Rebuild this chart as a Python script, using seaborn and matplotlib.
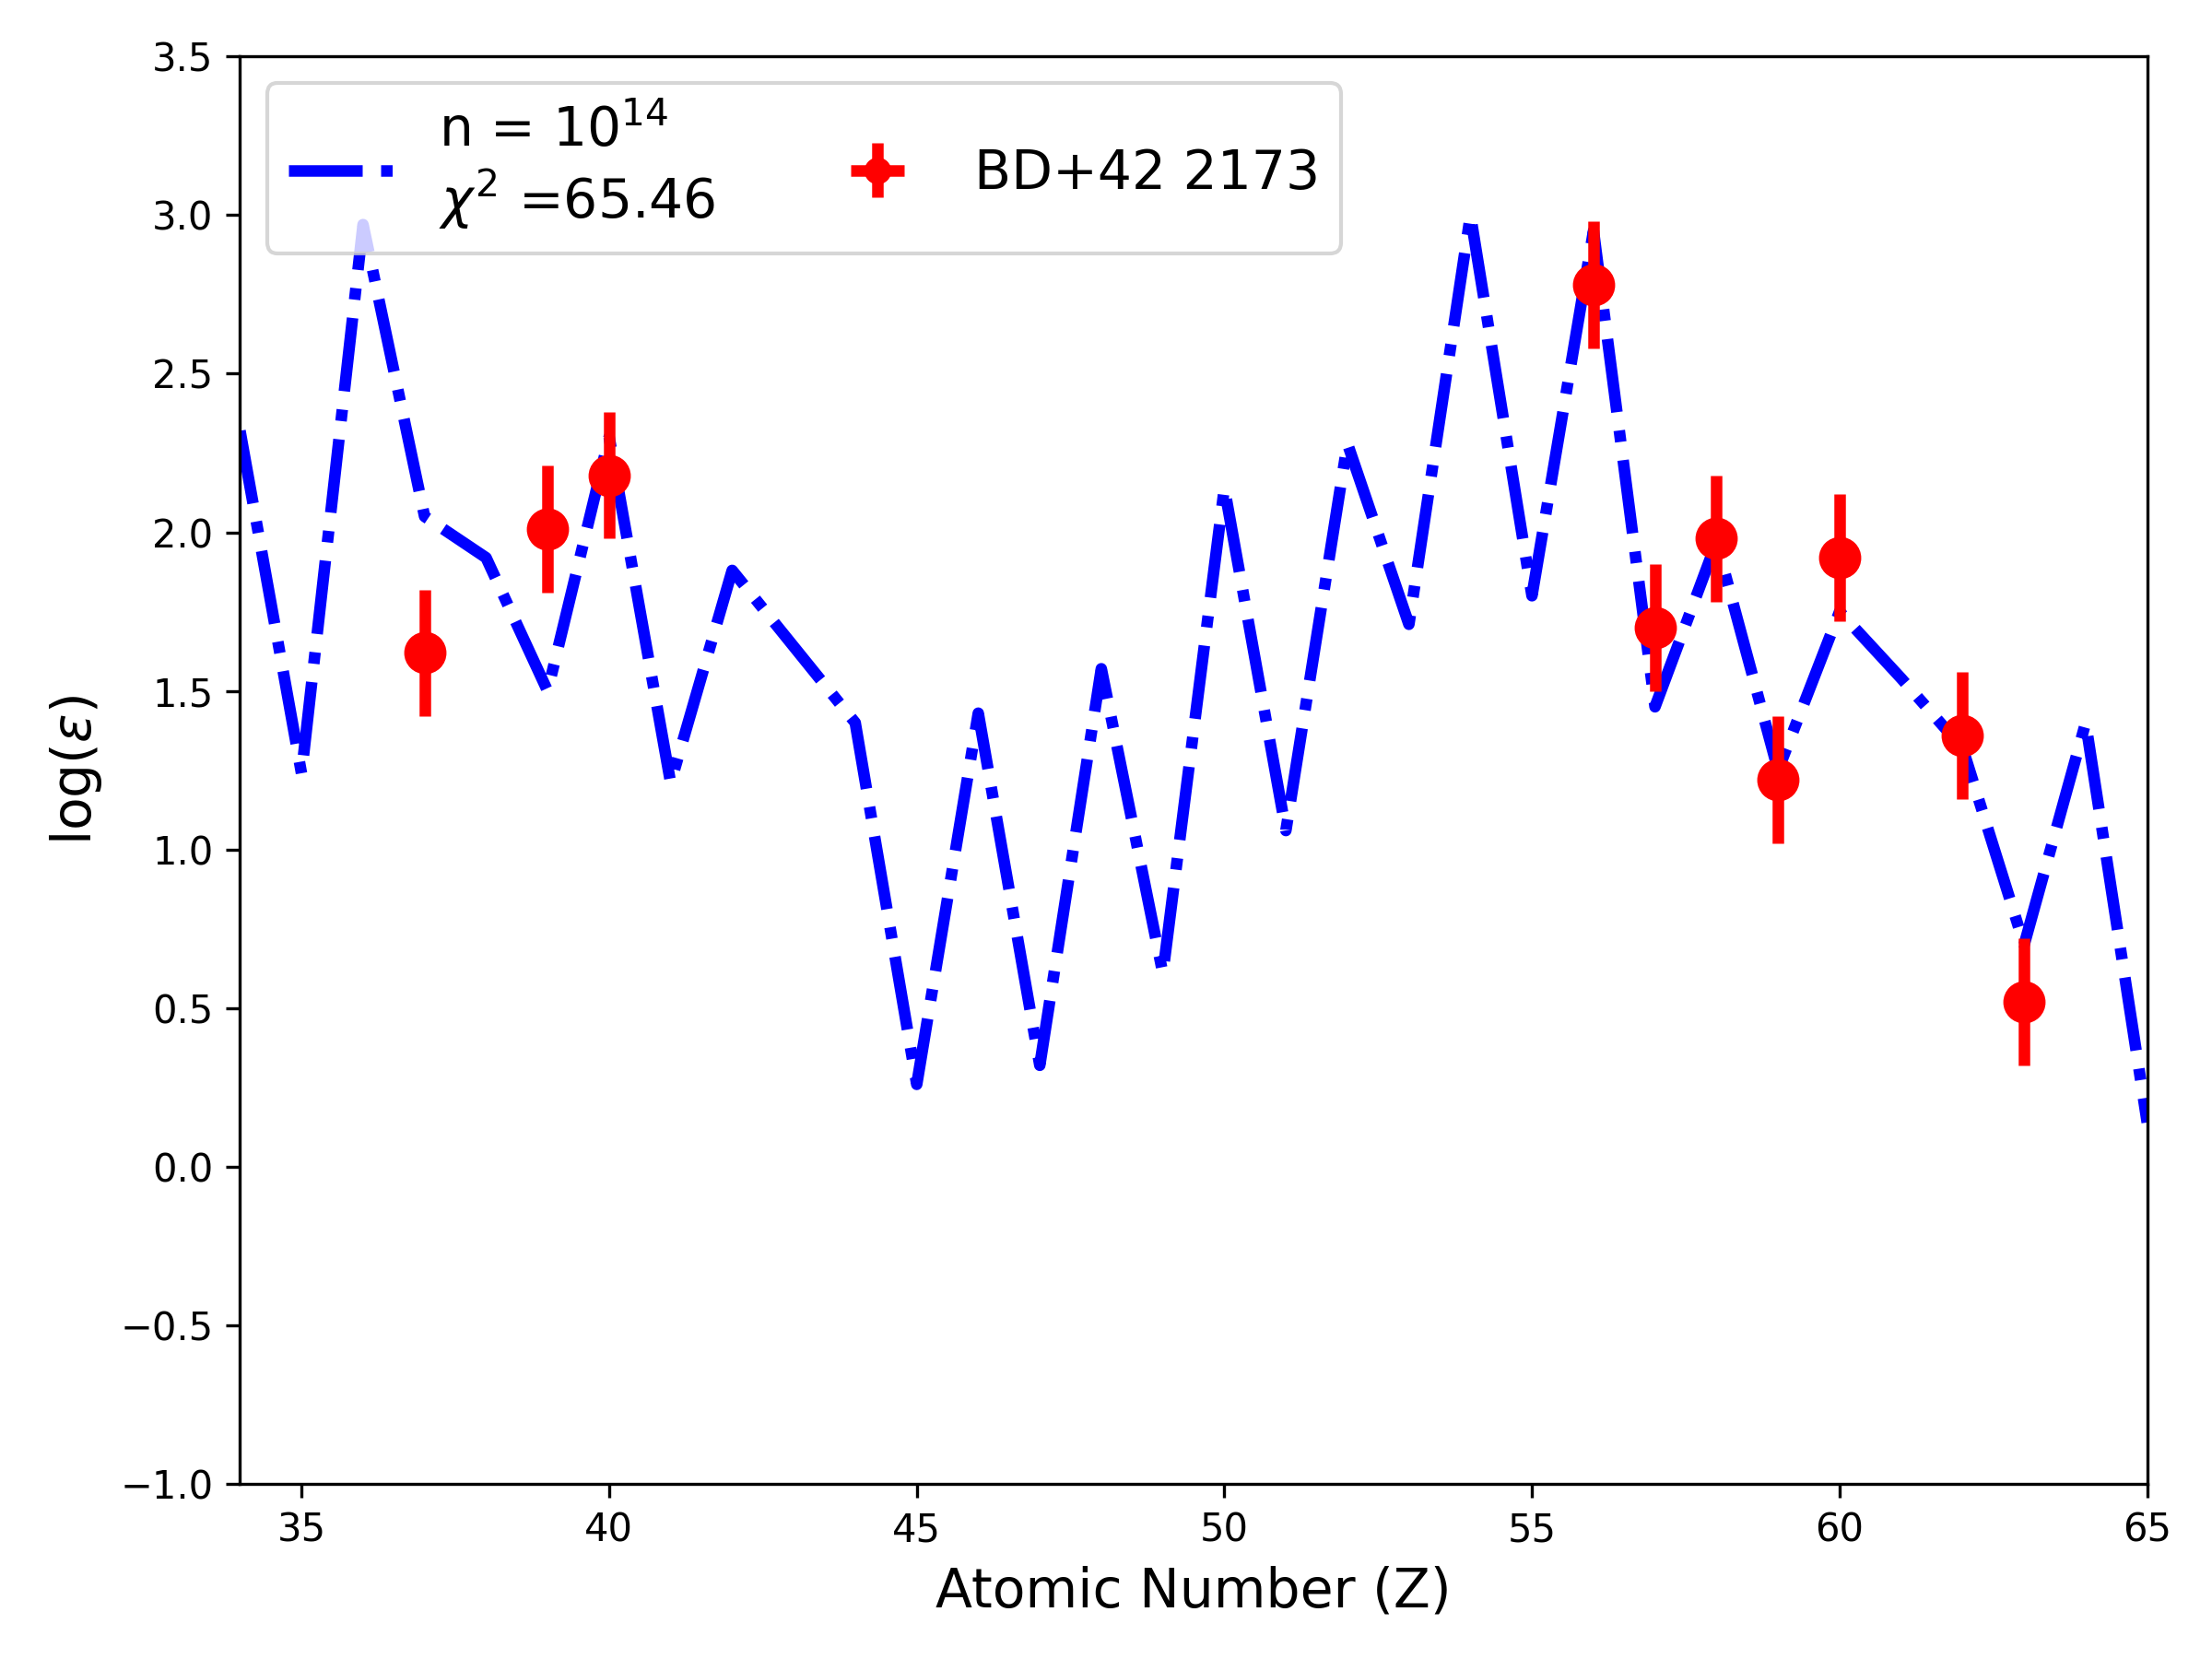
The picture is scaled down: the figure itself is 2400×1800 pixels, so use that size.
import numpy as np
import pandas as pd
import matplotlib
matplotlib.use("Agg")
import matplotlib.pyplot as plt
import seaborn as sns

# Model abundance pattern
model_z = [34, 35, 36, 37, 38, 39, 40, 41, 42, 43, 44, 45, 46, 47, 48, 49,
           50, 51, 52, 53, 54, 55, 56, 57, 58, 59, 60, 61, 62, 63, 64, 65]
model_logeps = [2.32, 1.24, 2.97, 2.05, 1.92, 1.50, 2.30, 1.21, 1.88, 1.64,
                1.40, 0.26, 1.43, 0.32, 1.57, 0.61, 2.14, 1.06, 2.28, 1.71,
                3.00, 1.80, 2.95, 1.45, 1.97, 1.25, 1.75, 1.54, 1.32, 0.70,
                1.40, 0.14]

# Observed star BD+42 2173
obs_z = [37, 39, 40, 56, 57, 58, 59, 60, 62, 63]
obs_logeps = [1.62, 2.01, 2.18, 2.78, 1.70, 1.98, 1.22, 1.92, 1.36, 0.52]
obs_err = [0.20, 0.20, 0.20, 0.20, 0.20, 0.20, 0.20, 0.20, 0.20, 0.20]
obs_xerr = [0, 0, 0, 0, 0, 0, 0, 0, 0, 0]

model_df = pd.DataFrame({"Z": model_z, "logeps": model_logeps})

fig, ax = plt.subplots(figsize=(8, 6), dpi=300)

sns.lineplot(data=model_df, x="Z", y="logeps", ax=ax, color="blue",
             linestyle="-.", linewidth=3,
             label="n = $10^{14}$\n$\\chi^2$ =65.46")
ax.errorbar(obs_z, obs_logeps, yerr=obs_err, xerr=obs_xerr, fmt="o",
            color="red", markersize=10, elinewidth=3, label="BD+42 2173")

ax.set_xlim(34, 65)
ax.set_ylim(-1.0, 3.5)
ax.set_xlabel("Atomic Number (Z)", fontsize=14)
ax.set_ylabel("log($\\epsilon$)", fontsize=14)
ax.legend(loc="upper left", ncol=2, fontsize=14, markerscale=0.6)

fig.subplots_adjust(left=0.1085, right=0.9707, top=0.966, bottom=0.1054)
fig.savefig("out.png", dpi=300)
